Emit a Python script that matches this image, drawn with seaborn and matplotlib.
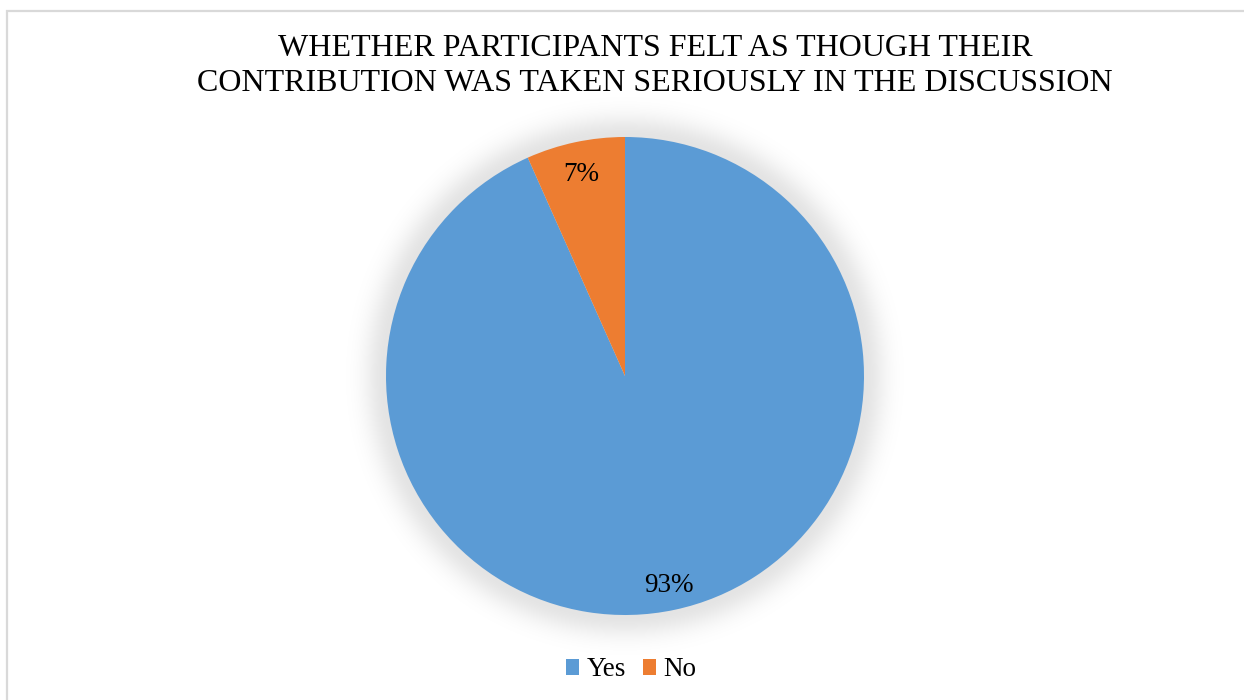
import numpy as np
import matplotlib
matplotlib.use("Agg")
import matplotlib.pyplot as plt
from matplotlib.patches import Rectangle
from matplotlib.transforms import ScaledTranslation
import seaborn as sns

# Survey responses
categories = ["Yes", "No"]
counts = [14, 1]
colors = ["#5B9BD5", "#ED7D31"]
title = "WHETHER PARTICIPANTS FELT AS THOUGH THEIR\nCONTRIBUTION WAS TAKEN SERIOUSLY IN THE DISCUSSION"

sns.set_theme(style="white")
plt.rcParams["font.family"] = ["Liberation Serif", "DejaVu Serif"]

W, H, DPI = 1244, 700, 100
fig = plt.figure(figsize=(W / DPI, H / DPI), dpi=DPI)
fig.patch.set_facecolor("white")

# pie geometry in pixels (origin top-left)
cx, cy, R = 625, 376, 239

# soft shadow behind the pie
bg = fig.add_axes([0, 0, 1, 1])
bg.set_xlim(0, W)
bg.set_ylim(H, 0)
bg.axis("off")
yy, xx = np.mgrid[0:H, 0:W] + 0.5
d = np.hypot(xx - cx, yy - cy) - R
dark = np.where(d > -3, 0.11 * np.exp(-(np.clip(d, 0, None) / 22.0) ** 2), 0.11)
shadow = np.ones((H, W, 4))
shadow[..., :3] = 0.0
shadow[..., 3] = dark
bg.imshow(shadow, extent=(0, W, H, 0), interpolation="bilinear", zorder=0)

# chart frame
fig.patches.append(Rectangle((7 / W, -0.05), 1.2, 689 / H + 0.05, transform=fig.transFigure,
                             fill=False, edgecolor="#d9d9d9", linewidth=1.6, zorder=1))

ax = fig.add_axes([(cx - R) / W, (H - cy - R) / H, 2 * R / W, 2 * R / H])
wedges, texts, autotexts = ax.pie(
    counts, colors=colors, startangle=90, counterclock=False, radius=1,
    autopct=lambda p: f"{p:.0f}%", pctdistance=0.88,
    wedgeprops=dict(linewidth=0),
    textprops=dict(fontsize=19.5, color="black"),
)
shift = ScaledTranslation(0, -4 / DPI, fig.dpi_scale_trans)
for t in autotexts:
    t.set_transform(t.get_transform() + shift)
ax.set_xlim(-1, 1)
ax.set_ylim(-1, 1)
ax.set_aspect("auto")
ax.axis("off")

fig.text(655 / W, 1 - 66 / H, title, ha="center", va="center", fontsize=23,
         linespacing=1.31, color="black")

leg = fig.legend(wedges, categories, loc="center", bbox_to_anchor=(631 / W, 1 - 670 / H),
                 ncol=2, frameon=False, fontsize=19.5, handlelength=0.5, handleheight=0.5,
                 handletextpad=0.26, columnspacing=0.63)
for t in leg.get_texts():
    t.set_color("black")

fig.savefig("out.png", dpi=DPI, facecolor="white")
